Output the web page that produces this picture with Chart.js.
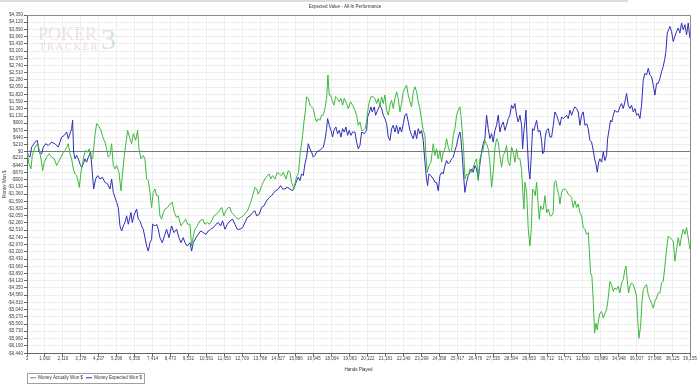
<!DOCTYPE html>
<html><head><meta charset="utf-8">
<script src="https://cdn.jsdelivr.net/npm/chart.js@4.4.1/dist/chart.umd.min.js"></script>
<style>html,body{margin:0;padding:0;background:#fff}canvas{display:block}</style>
</head><body>
<canvas id="c" width="700" height="384"></canvas>
<script>
const chartTitle = 'Expected Value - All-In Performance';
const xTitle = 'Hands Played';
const yTitle = 'Money Won $';
const seriesNames = ['Money Actually Won $', 'Money Expected Won $'];

const xTickValues = [1,1060,2119,3178,4237,5296,6355,7414,8473,9532,10591,11650,12709,13768,14827,15886,16945,18004,19063,20122,21181,22240,23299,24358,25417,26476,27535,28594,29653,30712,31771,32830,33889,34948,36007,37066,38125,39155];
const yTickValues = [-6440,-6190,-5960,-5730,-5500,-5270,-5040,-4810,-4580,-4350,-4120,-3890,-3660,-3430,-3200,-2970,-2740,-2510,-2280,-2050,-1820,-1590,-1360,-1130,-900,-670,-440,-210,0,210,440,670,900,1130,1360,1590,1820,2050,2280,2510,2740,2970,3200,3430,3660,3890,4120,4350];

const actualHands = [1,118,236,315,472,630,709,827,925,1023,1161,1299,1456,1614,1752,1850,2007,2145,2244,2342,2440,2539,2637,2736,2834,2932,3031,3090,3188,3267,3365,3464,3582,3680,3779,3877,3936,4015,4113,4212,4369,4507,4605,4704,4802,4900,4999,5097,5196,5294,5432,5550,5629,5727,5825,5943,6081,6180,6278,6416,6534,6613,6731,6869,6967,7065,7164,7262,7360,7459,7557,7656,7754,7852,7951,8049,8148,8305,8443,8581,8699,8836,8935,9092,9230,9368,9486,
9625,9723,9822,9920,10058,10215,10373,10511,10648,10766,10904,11042,11199,11357,11495,11632,11750,11888,11987,12085,12183,12341,12479,12616,12774,12931,13069,13207,13325,13463,13561,13659,13758,13856,13955,14053,14191,14309,14388,14506,14643,14781,14899,15037,15135,15293,15431,15529,15627,15765,15883,15962,16041,16119,16198,16277,16356,16434,16513,16611,16710,16808,16907,17005,17103,17202,17300,17399,17497,17595,17694,17773,17851,17930,18048,18127,18225,18324,18442,18540,18638,18737,18875,18973,19111,19229,
19368,19466,19565,19663,19762,19860,19958,20057,20116,20195,20313,20450,20549,20647,20746,20844,20942,21041,21139,21238,21336,21434,21533,21631,21730,21828,21926,22025,22123,22222,22320,22418,22517,22615,22714,22812,22910,23009,23107,23206,23304,23402,23501,23560,23639,23737,23855,23993,24091,24190,24288,24386,24485,24583,24682,24780,24878,24977,25075,25174,25272,25370,25469,25567,25626,25705,25784,25862,25961,26059,26158,26256,26354,26453,26551,26650,26748,26846,26945,27043,27142,27240,27338,27437,27535,27634,27732,27830,27929,28027,28126,28224,28322,28421,28519,28618,28716,28814,28913,29011,
29112,29210,29269,29348,29407,29506,29604,29702,29781,29860,29939,30017,30096,30194,30253,30332,30411,30490,30588,30686,30785,30883,30982,31080,31139,31237,31316,31415,31474,31572,31670,31769,31867,31966,32064,32162,32261,32359,32458,32556,32654,32753,32851,32950,33048,33146,33205,33284,33363,33442,33520,33599,33678,33756,33835,33934,34032,34130,34229,34327,34426,34524,34622,34721,34819,34918,35016,35114,35213,35311,35370,35449,35528,35606,35705,35803,35902,36000,36059,36138,36236,36315,36394,36492,36590,36689,36787,36886,36984,37082,37181,37279,37378,37476,37574,37673,37771,37870,37968,38066,38165,38263,38362,38460,38558,38657,38755,38854,38952,39050,39149];
const actualWon = [0,-396,-556,-128,139,246,86,-235,-609,-342,-182,-75,-182,-235,-449,-342,-182,-21,32,139,246,-75,-235,-556,-716,-770,-983,-1144,-663,-449,-128,32,-21,86,-235,-235,86,513,887,834,673,406,299,86,-182,-128,246,-449,-556,-449,-663,-1251,-770,-235,192,673,406,246,567,353,673,86,-235,-128,-235,-877,-930,-1304,-1785,-1304,-1197,-1411,-1411,-2052,-2159,-1946,-1839,-1785,-1678,-1625,-1946,-2106,-2052,-2373,-2266,-2159,-2320,
-2320,-3015,-2694,-2480,-2373,-2213,-2159,-2320,-2266,-2320,-2213,-2052,-1999,-1892,-1785,-2052,-1892,-1785,-1785,-1946,-1999,-2106,-2159,-2106,-2052,-1946,-1839,-1625,-1411,-1144,-1197,-1358,-1251,-1090,-983,-877,-770,-716,-877,-770,-877,-663,-716,-770,-663,-877,-609,-663,-983,-1197,-877,-770,-663,-128,192,513,941,1261,1742,1689,1475,1422,1368,1101,941,1048,994,1155,1155,1368,1689,2437,1796,1796,1582,1475,1742,1689,1582,1689,1475,1689,1529,1368,1582,1475,
1315,1155,834,941,673,673,727,941,1261,1529,1742,1742,1689,1529,1689,1422,1742,1529,1796,1315,1155,1475,1636,1368,1689,1903,1689,1261,1529,1903,2010,2117,1796,1582,1422,1903,2063,1903,1582,1368,994,673,513,-128,-663,-449,-342,246,-128,86,-235,32,-342,-21,86,406,139,-21,32,513,727,1155,1315,1422,1155,620,86,-877,-716,-770,-556,-663,-502,-342,-235,-930,-235,-75,86,353,246,86,-342,-1144,-663,86,406,299,-128,-502,-128,-21,192,-342,-449,139,-21,-342,86,-235,
-235,-609,-1197,-1839,-983,-1304,-2480,-3015,-2480,-1197,-1251,-1411,-983,-1732,-2159,-1732,-1839,-1839,-1411,-1946,-1839,-2052,-2052,-1946,-983,-930,-1197,-1411,-1678,-1304,-1197,-1197,-1251,-1358,-1411,-1465,-1785,-1571,-1785,-1678,-1946,-2052,-2427,-2480,-2640,-2587,-3121,-3870,-3977,-4778,-5794,-5473,-5687,-5366,-5153,-5099,-5313,-5153,-5046,-4672,-4137,-4244,-4458,-4351,-4404,-4297,-4511,-4190,-4084,-3763,-3656,-4084,-4511,-4297,-4190,-4244,-4404,-4618,-5259,-5954,-5580,-4832,-4404,-4297,-4244,-4565,-4725,-4832,-4992,-4778,-4672,-4511,-4511,-4190,-4137,-3656,-3121,-2694,-2747,-2801,-2854,-3496,-3121,-2747,-3015,-2694,-2480,-2640,-2427,-2747,-3121];

const expectedHands = [1,79,177,276,472,610,709,866,964,1102,1260,1456,1653,1850,1948,2047,2204,2342,2440,2539,2637,2696,2755,2834,2932,3031,3129,3228,3326,3424,3523,3621,3759,3857,3936,4054,4172,4310,4448,4605,4763,4900,4999,5097,5196,5294,5392,5491,5589,5688,5786,5884,5983,6140,6219,6337,6475,6573,6672,6770,6869,6967,7065,7164,7262,7360,7419,7557,7656,7754,7852,7990,8148,8246,8384,8541,8679,8836,8974,9092,9230,9329,9466,
9625,9723,9822,9979,10117,10255,10412,10570,10707,10845,11003,11160,11298,11436,11554,11691,11829,11987,12144,12282,12420,12577,12734,12872,13010,13167,13325,13463,13561,13718,13856,13994,14151,14309,14447,14584,14702,14840,14978,15096,15234,15372,15529,15686,15824,15923,16021,16119,16218,16316,16415,16513,16611,16710,16808,16907,17005,17103,17261,17399,17497,17595,17694,17753,17851,17950,18048,18127,18245,18343,18442,18540,18638,18737,18835,18934,19032,19131,19229,
19368,19466,19565,19663,19762,19919,20057,20116,20195,20313,20391,20509,20588,20706,20844,20942,21041,21139,21238,21336,21434,21533,21631,21730,21828,21926,22025,22123,22222,22320,22418,22517,22615,22714,22812,22910,23009,23107,23206,23304,23402,23501,23599,23658,23737,23855,23993,24091,24190,24288,24386,24485,24583,24682,24780,24878,24977,25075,25174,25272,25370,25469,25567,25626,25705,25784,25862,25961,26059,26158,26256,26354,26453,26551,26650,26748,26846,26945,27043,27142,27240,27338,27437,27535,27634,27732,27830,27929,28027,28126,28224,28322,28421,28519,28618,28716,28814,28913,29011,
29112,29210,29269,29348,29407,29466,29545,29624,29702,29781,29860,29939,30017,30096,30194,30293,30391,30450,30529,30608,30686,30785,30883,30982,31080,31178,31277,31375,31474,31572,31670,31769,31867,31966,32064,32162,32261,32359,32458,32556,32654,32753,32851,32950,33048,33146,33245,33343,33442,33520,33599,33678,33757,33835,33934,34032,34130,34229,34288,34386,34465,34544,34622,34721,34819,34918,35016,35114,35213,35311,35410,35508,35606,35705,35803,35902,36000,36098,36197,36295,36394,36492,36590,36689,36787,36886,36984,37082,37181,37279,37378,37476,37574,37673,37732,37811,37890,37968,38066,38165,38263,38362,38460,38558,38657,38755,38854,38952,39050,39149];
const expectedWon = [0,-128,-182,139,299,353,-21,-75,139,246,192,299,246,139,299,460,513,620,406,567,727,994,-21,-235,-128,-235,-396,-502,-396,-235,-342,-182,-21,-663,-1197,-877,-770,-877,-823,-983,-1037,-1197,-877,-1304,-1465,-1625,-1785,-2373,-2534,-2373,-2266,-2052,-2320,-1946,-2266,-1999,-1839,-2159,-2213,-2373,-2480,-2747,-3015,-3175,-2908,-2801,-2320,-2373,-2320,-2480,-2747,-2908,-2640,-2480,-2747,-2373,-2587,-2480,-2747,-2908,-2747,-2908,-3015,
-2908,-3175,-2908,-2747,-2640,-2534,-2587,-2640,-2534,-2480,-2427,-2320,-2266,-2373,-2213,-2480,-2320,-2213,-2159,-2320,-2480,-2480,-2427,-2266,-2106,-2052,-1946,-1892,-2052,-1999,-1785,-1732,-1571,-1465,-1411,-1304,-1251,-1197,-1090,-1197,-1197,-1144,-1197,-1251,-1090,-930,-823,-930,-716,-770,-396,-182,246,86,-21,-182,-128,-21,32,86,139,353,727,1048,834,673,460,673,780,567,673,460,727,620,780,513,673,513,620,
620,299,86,192,620,567,673,1101,1208,1422,1261,1422,1155,1315,1475,1368,1155,1048,887,460,353,727,834,620,834,567,780,620,887,1155,1208,941,673,513,406,673,406,727,567,673,353,-342,-877,-1090,-716,-770,-877,-983,-983,-1251,-770,-663,-716,-449,-289,-396,-342,-235,-182,32,192,460,620,406,-128,-770,-1304,-983,-770,-663,-556,-663,-449,-556,-877,-396,-21,246,406,1155,727,406,567,299,673,834,1155,620,834,941,673,834,1048,1155,1475,1368,1529,1155,941,
1155,834,86,673,941,1315,299,-556,-877,-128,727,673,834,994,620,673,353,-75,-21,460,673,727,460,460,834,1261,1155,994,834,1101,1048,1101,1155,1048,1315,1155,1315,1422,1368,1261,834,1155,1261,834,887,727,353,299,32,-235,-396,-663,-342,-235,-342,-21,-289,-128,406,727,994,941,1155,1315,1261,1261,1422,1529,1368,1582,1849,1475,1368,1475,1261,1368,1155,1208,1048,1475,2277,2491,2437,2651,2437,2384,2117,1796,2170,2170,2330,2544,2705,2972,3186,3774,3880,3987,3827,3506,3667,3827,3934,3774,4094,3880,4041,3720,4094,3613];

function money(v) {
  const s = Math.abs(v).toLocaleString('en-US');
  return (v < 0 ? '-$' : '$') + s;
}
function pts(xs, ys) { return xs.map((x, i) => ({x: x, y: ys[i]})); }

const FONT = "'Liberation Sans', Arial, sans-serif";
const GREEN = '#3db83d';
const BLUE = '#2e2eb8';

const decor = {
  id: 'decor',
  beforeDraw(chart) {
    const ctx = chart.ctx;
    ctx.save();
    ctx.fillStyle = '#ffffff';
    ctx.fillRect(0, 0, chart.width, chart.height);
    ctx.fillStyle = '#dcdcdc';
    ctx.fillRect(0, 0, 628, 2);
    ctx.restore();
  },
  beforeDatasetsDraw(chart) {
    const ctx = chart.ctx, a = chart.chartArea;
    const x0 = a.left + 11, y0 = a.top;
    ctx.save();
    ctx.textBaseline = 'alphabetic';
    ctx.textAlign = 'left';
    ctx.fillStyle = 'rgba(205,150,150,0.28)';
    ctx.font = "18px 'Liberation Serif', serif";
    ctx.fillText('POKER', x0, y0 + 25);
    ctx.fillStyle = 'rgba(140,140,140,0.28)';
    ctx.font = "10.5px 'Liberation Serif', serif";
    ctx.letterSpacing = '1.6px';
    ctx.fillText('TRACKER', x0 + 1, y0 + 35);
    ctx.letterSpacing = '0px';
    ctx.fillStyle = 'rgba(110,175,110,0.30)';
    ctx.font = "30px 'Liberation Serif', serif";
    ctx.fillText('3', x0 + 63, y0 + 34);
    ctx.restore();
  },
  afterDraw(chart) {
    const ctx = chart.ctx, a = chart.chartArea;
    ctx.save();
    ctx.strokeStyle = '#8c8c8c';
    ctx.lineWidth = 1;
    ctx.beginPath();
    ctx.moveTo(a.left, a.top + 0.5); ctx.lineTo(a.right + 0.5, a.top + 0.5);
    ctx.lineTo(a.right + 0.5, a.bottom);
    ctx.stroke();
    const lg = chart.legend;
    if (lg && lg.legendHitBoxes && lg.legendHitBoxes.length) {
      const hb = lg.legendHitBoxes;
      const first = hb[0], last = hb[hb.length - 1];
      const cy = first.top + first.height / 2;
      const l = Math.round(first.left) - 2.5;
      const r = Math.round(last.left + last.width) + 2.5;
      ctx.strokeStyle = '#a0a0a0';
      ctx.strokeRect(l, Math.round(cy - 5) + 0.5, r - l, 10);
    }
    ctx.restore();
  }
};

new Chart(document.getElementById('c'), {
  type: 'line',
  data: {
    datasets: [
      { label: seriesNames[0], data: pts(actualHands, actualWon), borderColor: GREEN, backgroundColor: GREEN, borderWidth: 1, pointRadius: 0, tension: 0, fill: false },
      { label: seriesNames[1], data: pts(expectedHands, expectedWon), borderColor: BLUE, backgroundColor: BLUE, borderWidth: 1, pointRadius: 0, tension: 0, fill: false }
    ]
  },
  options: {
    responsive: false,
    animation: false,
    events: [],
    layout: { padding: { left: 0, right: 10, top: 0, bottom: -6 } },
    plugins: {
      tooltip: { enabled: false },
      title: {
        display: true, text: chartTitle, color: '#333',
        font: { family: FONT, size: 4.5, weight: 'normal' },
        padding: { top: 4, bottom: 5.6 }
      },
      legend: {
        display: true, position: 'bottom', align: 'start', fullSize: false,
        labels: {
          color: '#333', font: { family: FONT, size: 4.5 },
          boxWidth: 6, boxHeight: 1, padding: 3,
          generateLabels(chart) {
            return chart.data.datasets.map((d, i) => ({
              text: d.label, fillStyle: d.borderColor, strokeStyle: d.borderColor,
              lineWidth: 0, hidden: false, datasetIndex: i, fontColor: '#333'
            }));
          }
        }
      }
    },
    scales: {
      x: {
        type: 'linear', min: 1, max: 39155, offset: false,
        afterBuildTicks(scale) { scale.ticks = xTickValues.map(v => ({ value: v })); },
        afterFit(scale) { scale.height = 19; },
        ticks: {
          autoSkip: false, maxRotation: 0, minRotation: 0, padding: 0,
          color: '#444', font: { family: FONT, size: 4.5 },
          callback: (v) => Number(v).toLocaleString('en-US')
        },
        grid: { color: '#efefef', lineWidth: 1, tickLength: 3, tickColor: '#666' },
        border: { display: true, color: '#666' },
        title: { display: true, text: xTitle, color: '#333', font: { family: FONT, size: 4.5 }, padding: { top: 0, bottom: 0 } }
      },
      y: {
        type: 'linear', min: -6440, max: 4350,
        afterBuildTicks(scale) { scale.ticks = yTickValues.map(v => ({ value: v })); },
        afterFit(scale) { scale.width = 27; },
        ticks: {
          autoSkip: false, padding: 1,
          color: '#444', font: { family: FONT, size: 4.5 },
          callback: (v) => money(v)
        },
        grid: {
          color: (c) => (c.tick && c.tick.value === 0) ? '#7a7a7a' : '#eeeeee',
          lineWidth: 1, tickLength: 3, tickColor: '#666'
        },
        border: { display: true, color: '#666' },
        title: { display: true, text: yTitle, color: '#333', font: { family: FONT, size: 4.5 }, padding: { top: 2, bottom: 0 } }
      }
    }
  },
  plugins: [decor]
});
</script>
</body></html>
